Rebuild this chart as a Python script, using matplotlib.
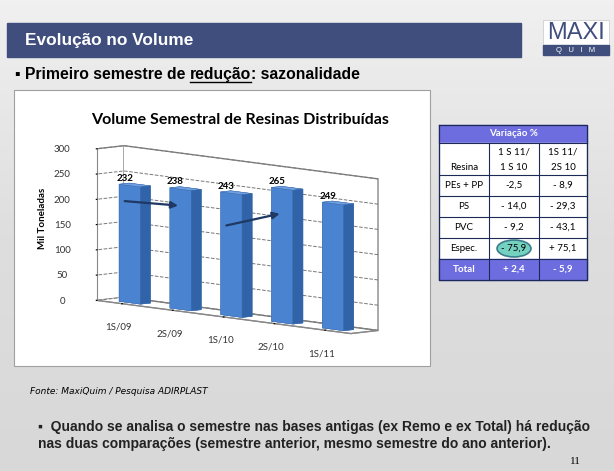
import numpy as np
import matplotlib
matplotlib.use("Agg")
import matplotlib.pyplot as plt
from matplotlib.patches import Rectangle, Ellipse
from mpl_toolkits.mplot3d import proj3d

# dados do gráfico
semestres = ["1S/09", "2S/09", "1S/10", "2S/10", "1S/11"]
volume = [232, 238, 243, 265, 249]

# dados da tabela
resinas = ["PEs + PP", "PS", "PVC", "Espec.", "Total"]
var_1s10 = ["-2,5", "- 14,0", "- 9,2", "- 75,9", "+ 2,4"]
var_2s10 = ["- 8,9", "- 29,3", "- 43,1", "+ 75,1", "- 5,9"]

W, H = 614, 471
fig = plt.figure(figsize=(W / 100, H / 100), dpi=100)

def pixel_axes():
    a = fig.add_axes([0, 0, 1, 1])
    a.set_xlim(0, W)
    a.set_ylim(H, 0)
    a.axis("off")
    a.patch.set_alpha(0)
    return a

# fundo do slide em coordenadas de pixel
bg = pixel_axes()
grad = np.linspace(0, 1, 100).reshape(-1, 1)
bg.imshow(grad, extent=[0, W, H, 0], cmap=matplotlib.colors.LinearSegmentedColormap.from_list(
    "g", ["#f0f0f0", "#dedede", "#d8d8d8"]), aspect="auto", zorder=0)

# barra de título
bg.add_patch(Rectangle((7, 23), 514, 34, color="#3f4e7c", zorder=1))
bg.text(25, 41, "Evolução no Volume", color="white", fontsize=12.4, fontweight="bold",
        family="Liberation Sans", va="center", zorder=2)

# logo
bg.add_patch(Rectangle((543, 20), 66, 35, facecolor="white", edgecolor="#c8c8c8", lw=0.5, zorder=1))
bg.add_patch(Rectangle((543, 45), 66, 10, color="#3f4e7c", zorder=2))
bg.text(576, 33, "MAXI", color="#3f4e7c", fontsize=17, family="Liberation Sans",
        ha="center", va="center", zorder=3)
bg.text(576, 50.5, "Q   U   I   M", color="white", fontsize=5.5, family="Liberation Sans",
        ha="center", va="center", zorder=3)

# subtítulo com "redução" sublinhado
sub_kw = dict(fontsize=11.3, fontweight="bold", family="Liberation Sans", va="baseline", zorder=2)
p1 = bg.text(15, 79, "▪ Primeiro semestre de ", **sub_kw)
r = fig.canvas.get_renderer()
bb = p1.get_window_extent(r).transformed(bg.transData.inverted())
p2 = bg.text(bb.x1, 79, "redução", **sub_kw)
bb2 = p2.get_window_extent(r).transformed(bg.transData.inverted())
bg.plot([bb2.x0, bb2.x1], [81.5, 81.5], color="black", lw=1, zorder=2)
bg.text(bb2.x1, 79, ": sazonalidade", **sub_kw)

# caixa branca do gráfico
bg.add_patch(Rectangle((14, 90), 416, 276, facecolor="white", edgecolor="#a0a0a0", lw=0.8, zorder=1))
bg.text(240, 120, "Volume Semestral de Resinas Distribuídas", fontsize=11.5, fontweight="bold",
        family="Lato", ha="center", va="center", zorder=2)

# gráfico 3D
ax = fig.add_axes([39 / W, 1 - 368 / H, 390 / W, 250 / H], projection="3d", proj_type="ortho")
ax.set_facecolor((1, 1, 1, 0))
x = np.arange(len(volume))
# faces: -z, +z, -y (frente), +y, -x, +x (lado)
faces = ["#3a6fb5", "#6f9fe0", "#4a84d0", "#3a6fb5", "#3a6fb5", "#3063a8"]
ax.bar3d(x - 0.21, 0.28, 0, 0.42, 0.37, volume, color=faces * len(volume), shade=False,
         edgecolor="#3c6db0", linewidth=0.3)
ax.set_xlim(-0.5, 4.5)
ax.set_ylim(0, 1)
ax.set_zlim(0, 300)
ax.set_xticks(x)
ax.set_xticklabels(semestres, fontsize=7, color="#333333", family="Lato")
ax.set_yticks([])
ax.set_zticks(range(0, 301, 50))
ax.set_zticklabels([str(v) for v in range(0, 301, 50)], fontsize=7, color="#333333", family="Lato")
ax.zaxis.set_ticks_position("lower")
ax.zaxis.set_label_position("lower")
ax.set_zlabel("Mil Toneladas", fontsize=7, fontweight="bold", family="Lato", labelpad=-3)
ax.xaxis.label.set_visible(False)
ax.yaxis.label.set_visible(False)
for a in (ax.xaxis, ax.yaxis, ax.zaxis):
    a.set_pane_color((1, 1, 1, 1))
    a.pane.set_edgecolor("#888888")
    a.line.set_color("#888888")
    a.offsetText.set_visible(False)
ax.xaxis._axinfo["grid"].update(color=(1, 1, 1, 0))
ax.yaxis._axinfo["grid"].update(color=(1, 1, 1, 0))
ax.zaxis._axinfo["grid"].update(color="#777777", linestyle="--", linewidth=0.7)
ax.set_box_aspect((5, 0.5, 2.05), zoom=1.57)
ax.view_init(elev=7, azim=-43)
for xi, v in zip(x, volume):
    ax.text(xi - 0.1, 0.28, v + 8, str(v), fontsize=7, fontweight="bold", family="Lato", ha="center", zorder=10)

# setas por cima das barras (projetadas a partir dos dados)
top = pixel_axes()
fig.canvas.draw()
M = ax.get_proj()
def to_px(xd, yd, zd):
    px, py, _ = proj3d.proj_transform(xd, yd, zd, M)
    return top.transData.inverted().transform(ax.transData.transform((px, py)))
for (i0, z0), (i1, z1) in [((-0.1, 200), (0.95, 205)), ((1.9, 178), (2.95, 215))]:
    s = to_px(i0, 0.28, z0)
    e = to_px(i1, 0.28, z1)
    top.annotate("", xy=e, xytext=s, arrowprops=dict(arrowstyle="-|>", color="#1f3864", lw=1.6,
                 mutation_scale=10, shrinkA=0, shrinkB=0))

# tabela
cols = [439, 489, 539, 587]
bg.add_patch(Rectangle((439, 125), 148, 18, color="#6d6de0", zorder=2))
bg.text(513, 134, "Variação %", color="white", fontsize=7, fontweight="bold", family="Lato",
        ha="center", va="center", zorder=3)
bg.add_patch(Rectangle((439, 143), 148, 32, color="white", zorder=2))
bg.text(464, 168, "Resina", fontsize=7, family="Lato", ha="center", va="center", zorder=3)
bg.text(514, 152, "1 S 11/", fontsize=7, family="Lato", ha="center", va="center", zorder=3)
bg.text(514, 167, "1 S 10", fontsize=7, family="Lato", ha="center", va="center", zorder=3)
bg.text(563, 152, "1S 11/", fontsize=7, family="Lato", ha="center", va="center", zorder=3)
bg.text(563, 167, "2S 10", fontsize=7, family="Lato", ha="center", va="center", zorder=3)
y0, rh = 175, 21
for i, (res, a, b) in enumerate(zip(resinas, var_1s10, var_2s10)):
    yy = y0 + i * rh
    total = res == "Total"
    bg.add_patch(Rectangle((439, yy), 148, rh, color="#6d6de0" if total else "white", zorder=2))
    c = "white" if total else "black"
    w = "bold" if total else "normal"
    for cx, t in zip([464, 514, 563], [res, a, b]):
        bg.text(cx, yy + rh / 2, t, fontsize=7, color=c, fontweight=w, family="Lato",
                ha="center", va="center", zorder=4)
    bg.plot([439, 587], [yy, yy], color="#1c2a55", lw=0.8, zorder=3)
for cx in cols:
    bg.plot([cx, cx], [143, y0 + 5 * rh], color="#1c2a55", lw=0.8, zorder=3)
bg.plot([439, 587, 587, 439, 439], [125, 125, y0 + 5 * rh, y0 + 5 * rh, 125], color="#1c2a55", lw=0.9, zorder=3)
bg.plot([439, 587], [143, 143], color="#1c2a55", lw=0.8, zorder=3)
bg.add_patch(Ellipse((514, y0 + 3 * rh + rh / 2), 34, 17, facecolor="#5cc8b4", edgecolor="#2b6a80",
                     lw=1.2, alpha=0.85, zorder=3.5))

# rodapé
bg.text(30, 391, "Fonte: MaxiQuim / Pesquisa ADIRPLAST", fontsize=6.5, style="italic",
        family="Liberation Sans Narrow", va="center", zorder=2)
bg.text(38, 427, "▪  Quando se analisa o semestre nas bases antigas (ex Remo e ex Total) há redução",
        fontsize=10, fontweight="bold", family="Liberation Sans", va="center", color="#222222", zorder=2)
bg.text(38, 444, "nas duas comparações (semestre anterior, mesmo semestre do ano anterior).",
        fontsize=10, fontweight="bold", family="Liberation Sans", va="center", color="#222222", zorder=2)
bg.text(570, 462, "11", fontsize=8, family="Liberation Serif", va="center", zorder=2)

fig.savefig("out.png", dpi=100)
